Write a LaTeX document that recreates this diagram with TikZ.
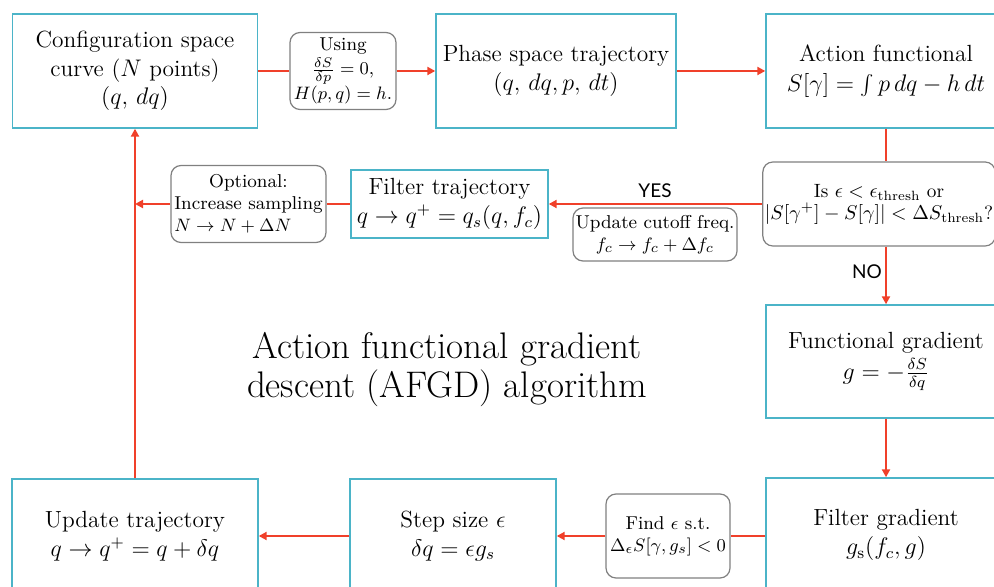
\documentclass[tikz,border=0pt]{standalone}
\usepackage{fontspec}
\usepackage{calc}
\newfontfamily\labelfont{Lato}
\usetikzlibrary{arrows.meta,calc}
\definecolor{boxteal}{HTML}{4BB4C8}
\definecolor{arrowred}{HTML}{F0402A}
\definecolor{roundgray}{HTML}{808080}
\tikzset{
  mainbox/.style={draw=boxteal, line width=0.7pt, rectangle, align=center, inner sep=2pt,
    font=\fontsize{11.7}{14.3}\selectfont},
  roundbox/.style={draw=roundgray, line width=0.6pt, rectangle, rounded corners=5pt, align=center,
    inner sep=1pt, fill=white, font=\fontsize{9.3}{11}\selectfont},
  link/.style={draw=arrowred, line width=1.4pt},
  arrowlink/.style={link, -{Triangle[length=4pt,width=4pt]}},
  answer/.style={font=\labelfont\fontsize{9.5}{11}\selectfont, inner sep=0pt},
}
\begin{document}
\begin{tikzpicture}[x=0.5pt,y=-0.5pt]
\useasboundingbox (0,0) rectangle (994,587);
\clip (0,0) rectangle (994,587);

% top row
\node[mainbox, minimum width=122.5pt, minimum height=57pt] (A) at (135,71)
  {Configuration space\\curve ($N$ points)\\$(q,\,dq)$};
\node[roundbox, minimum width=53pt, minimum height=38.5pt] (US) at (343,71)
  {Using\\[1pt]$\frac{\delta S}{\delta p}=0$,\\$H(p,q)=h$.};
\node[mainbox, minimum width=120pt, minimum height=57pt] (B) at (556,71)
  {Phase space trajectory\\$(q,\,dq,p,\,dt)$};
\node[mainbox, minimum width=120pt, minimum height=57pt] (C) at (886,71)
  {Action functional\\[1pt]$S[\gamma]=\int p\,dq-h\,dt$};

% middle row
\node[roundbox, minimum width=114pt, minimum height=42pt, font=\fontsize{9.6}{11}\selectfont] (D) at (879,204)
  {Is $\epsilon<\epsilon_{\mathrm{thresh}}$ or\\$|S[\gamma^+]-S[\gamma]|<\Delta S_{\mathrm{thresh}}$?};
\node[mainbox, minimum width=98.5pt, minimum height=34pt] (FT) at (449.5,204)
  {Filter trajectory\\$q\to q^+=q_s(q,f_c)$};
\node[roundbox, minimum width=77.5pt, minimum height=38.5pt] (OP) at (248.5,204)
  {Optional:\\Increase sampling\\\makebox[\widthof{Increase sampling}][l]{$N\to N+\Delta N$}};
\node[roundbox, minimum width=82pt, minimum height=26.5pt] (UC) at (655,234.5)
  {Update cutoff freq.\\$f_c\to f_c+\Delta f_c$};
\node[answer] (YES) at (655,191) {YES};
\node[answer] (NO) at (867,272) {NO};

% title
\node[align=center, font=\fontsize{18.5}{19.5}\selectfont] (T) at (447,370)
  {Action functional gradient\\descent (AFGD) algorithm};

% right column
\node[mainbox, minimum width=120pt, minimum height=56.5pt] (FG) at (886,361.5)
  {Functional gradient\\[1pt]$g=-\frac{\delta S}{\delta q}$};
\node[mainbox, minimum width=120pt, minimum height=57pt] (FGr) at (886,535)
  {Filter gradient\\$g_{\mathrm{s}}(f_c,g)$};

% bottom row
\node[roundbox, minimum width=62pt, minimum height=42pt] (FI) at (668,536)
  {Find $\epsilon$ s.t.\\$\Delta_\epsilon S[\gamma,g_s]<0$};
\node[mainbox, minimum width=103pt, minimum height=57pt] (ST) at (453,536)
  {Step size $\epsilon$\\$\delta q=\epsilon g_s$};
\node[mainbox, minimum width=123pt, minimum height=57pt] (UT) at (135,536)
  {Update trajectory\\$q\to q^+=q+\delta q$};

\coordinate (J) at (UT.north |- OP.west);

% connectors
\draw[link] (A.east) -- (US.west);
\draw[arrowlink] (US.east) -- (B.west);
\draw[arrowlink] (B.east) -- (C.west);
\draw[link] (C.south) -- (C.south |- D.north);
\draw[arrowlink] (D.west) -- (FT.east);
\draw[link] (FT.west) -- (OP.east);
\draw[arrowlink] (OP.west) -- (J);
\draw[arrowlink] (C.south |- D.south) -- (FG.north);
\draw[arrowlink] (FG.south) -- (FGr.north);
\draw[link] (FGr.west |- FI.east) -- (FI.east);
\draw[arrowlink] (FI.west) -- (ST.east);
\draw[arrowlink] (ST.west) -- (UT.east);
\draw[arrowlink] (UT.north) -- (A.south);
\end{tikzpicture}
\end{document}
